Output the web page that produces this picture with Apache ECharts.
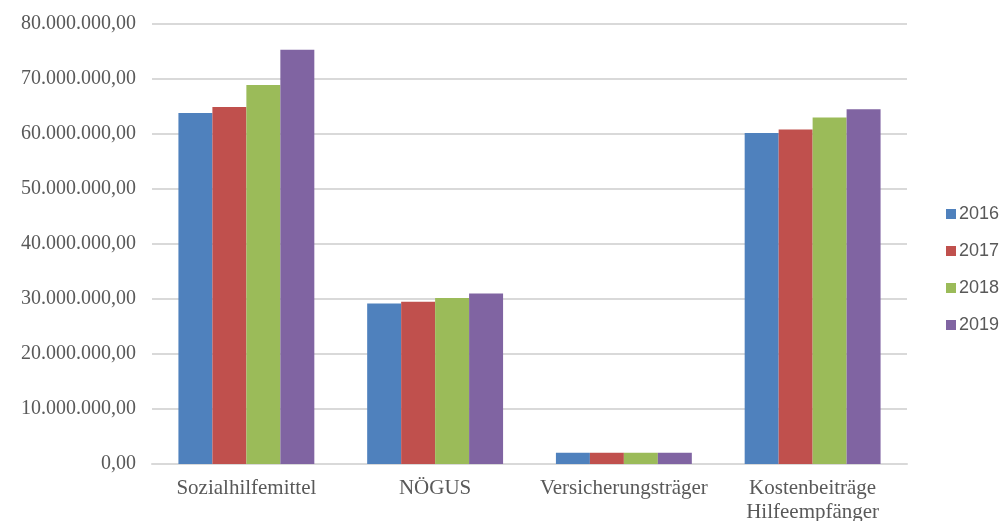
<!DOCTYPE html>
<html>
<head>
<meta charset="utf-8">
<script src="https://cdn.jsdelivr.net/npm/echarts@6/dist/echarts.min.js"></script>
<style>
  html, body { margin: 0; padding: 0; background: #fff; }
  #chart { width: 1002px; height: 521px; }
</style>
</head>
<body>
<div id="chart"></div>
<script>
var categories = ['Sozialhilfemittel', 'NÖGUS', 'Versicherungsträger', 'Kostenbeiträge\nHilfeempfänger'];
var years = ['2016', '2017', '2018', '2019'];
var v2016 = [63800000, 29200000, 2050000, 60200000];
var v2017 = [64900000, 29500000, 2050000, 60800000];
var v2018 = [68900000, 30200000, 2050000, 63000000];
var v2019 = [75300000, 31000000, 2050000, 64500000];
var colors = ['#4F81BD', '#C0504D', '#9BBB59', '#8064A2'];

function fmtDe(v) {
    var parts = v.toFixed(2).split('.');
    return parts[0].replace(/\B(?=(\d{3})+(?!\d))/g, '.') + ',' + parts[1];
}

var myChart = echarts.init(document.getElementById('chart'));
var allValues = [v2016, v2017, v2018, v2019];

var option = {
    animation: false,
    color: colors,
    grid: { left: 152, right: 95, top: 24, bottom: 57, outerBoundsMode: 'none' },
    legend: {
        orient: 'vertical',
        left: 941,
        top: 199,
        itemWidth: 10,
        itemHeight: 10,
        itemGap: 17,
        icon: 'rect',
        textStyle: { fontFamily: 'Liberation Sans', fontSize: 18, color: '#595959', lineHeight: 20, padding: [0, 0, 0, -2] },
        data: years
    },
    xAxis: {
        type: 'category',
        data: categories,
        axisTick: { show: false },
        axisLine: { lineStyle: { color: '#d9d9d9', width: 2 } },
        axisLabel: {
            fontFamily: 'Liberation Serif',
            fontSize: 21,
            color: '#595959',
            lineHeight: 24,
            margin: 12,
            interval: 0
        }
    },
    yAxis: {
        type: 'value',
        min: 0,
        max: 80000000,
        interval: 10000000,
        axisLine: { show: false },
        axisTick: { show: false },
        splitLine: { lineStyle: { color: '#d9d9d9', width: 2 } },
        axisLabel: {
            fontFamily: 'Liberation Serif',
            fontSize: 20,
            color: '#595959',
            margin: 16,
            formatter: fmtDe
        }
    },
    series: years.map(function (y, i) {
        return {
            name: y,
            type: 'bar',
            data: allValues[i],
            barGap: '0%',
            barCategoryGap: '28%'
        };
    })
};

myChart.setOption(option);
</script>
</body>
</html>
